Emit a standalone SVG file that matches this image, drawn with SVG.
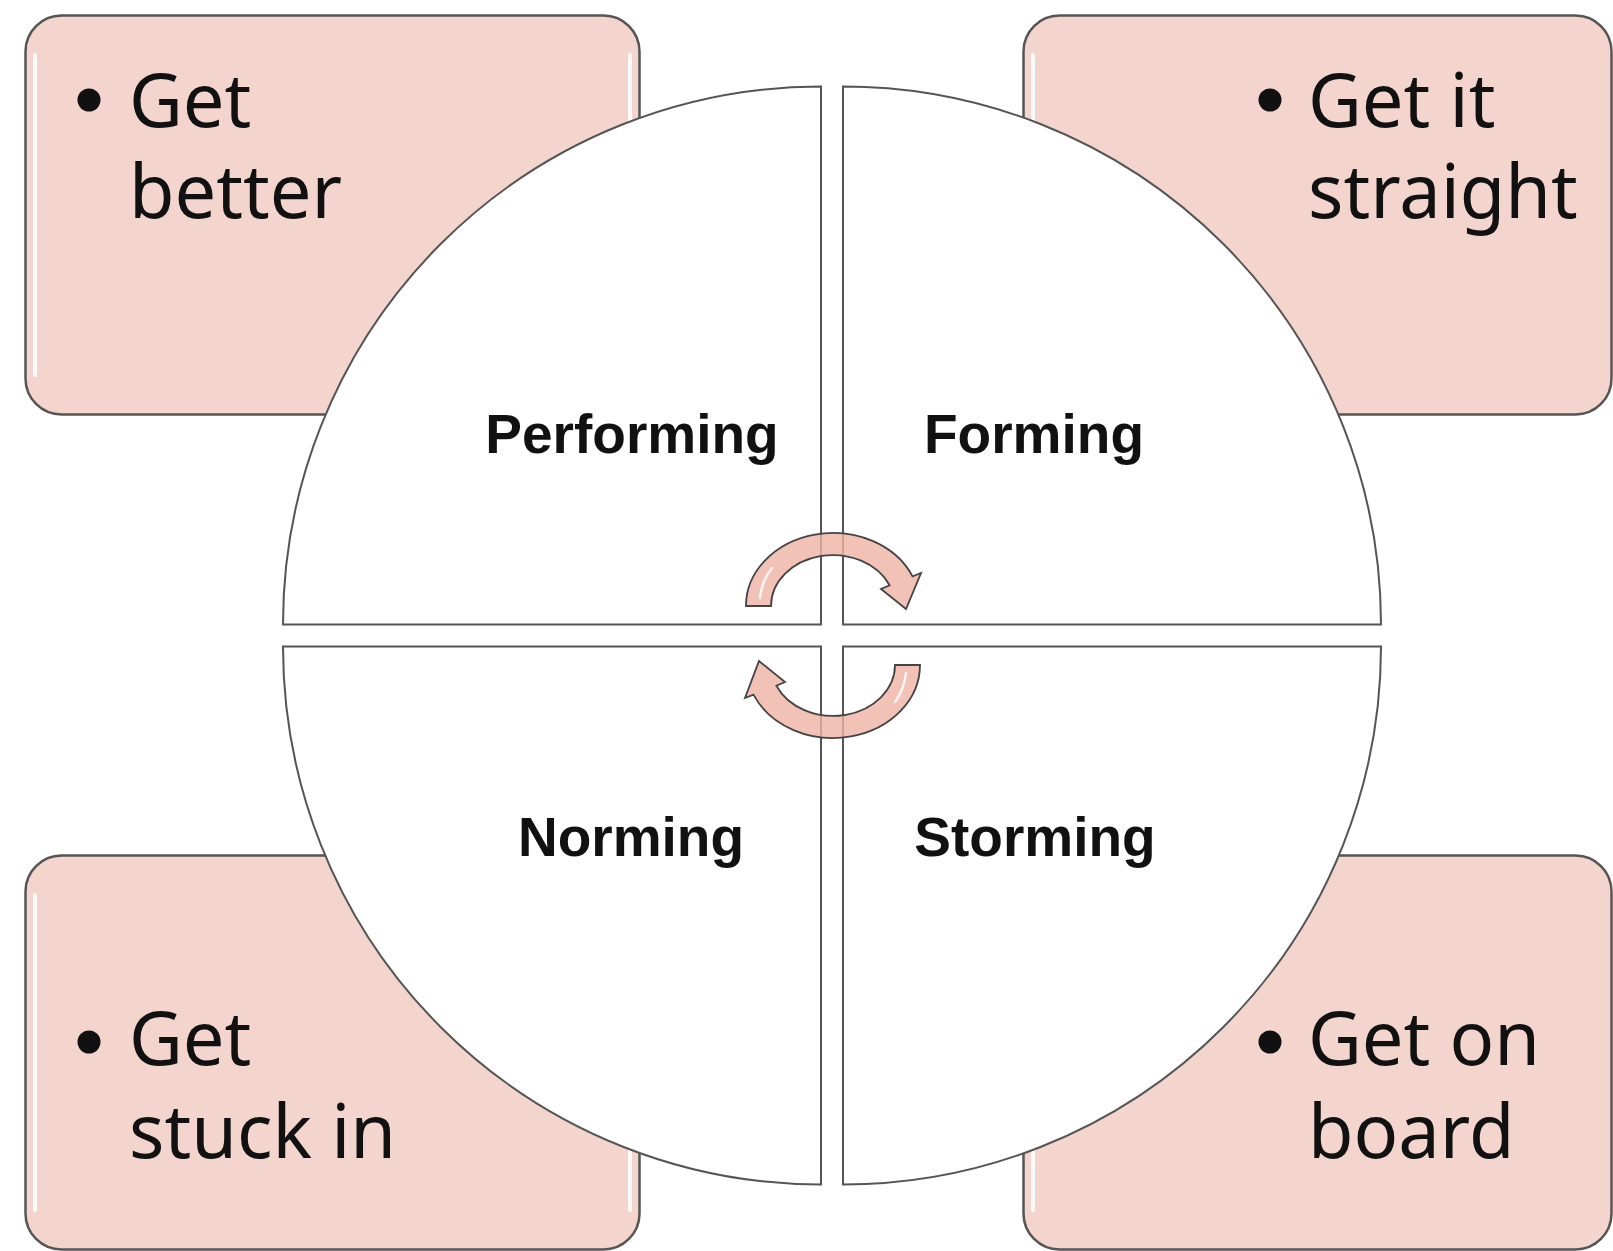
<svg xmlns="http://www.w3.org/2000/svg" width="1613" height="1251" viewBox="0 0 1613 1251">
<style>
.box{fill:#F3D5CE;stroke:#555;stroke-width:2.5}
.hl{stroke:#fff;stroke-width:4;stroke-linecap:round;opacity:0.9}
.quad{fill:#fff;stroke:#555;stroke-width:2}
.bt{font-family:"Noto Sans","Liberation Sans",sans-serif;font-size:74px;fill:#111}
.lbl{font-family:"Liberation Sans",Arial,sans-serif;font-weight:bold;font-size:55px;fill:#111;text-anchor:middle}
.arr{fill:#EFB3A4;fill-opacity:0.8;stroke:#444;stroke-width:1.8;stroke-linejoin:miter}
.ahl{stroke:#fff;stroke-width:2.5;fill:none;stroke-linecap:round;opacity:0.85}
</style>
<rect width="1613" height="1251" fill="#fff"/>
<g id="box-tl">
<rect class="box" x="25.5" y="15.5" width="614" height="399" rx="36"/>
<line class="hl" x1="35" y1="55" x2="35" y2="375"/>
<line class="hl" x1="630" y1="55" x2="630" y2="375"/>
<circle cx="89" cy="100" r="11.5" fill="#111"/>
<text class="bt" x="129" y="127">Get</text>
<text class="bt" x="129" y="218">better</text>
</g>
<g id="box-tr">
<rect class="box" x="1023.5" y="15.5" width="588" height="399" rx="36"/>
<line class="hl" x1="1033" y1="55" x2="1033" y2="375"/>
<circle cx="1270" cy="100" r="11.5" fill="#111"/>
<text class="bt" x="1308" y="127">Get it</text>
<text class="bt" x="1308" y="218">straight</text>
</g>
<g id="box-bl">
<rect class="box" x="25.5" y="855.5" width="614" height="394" rx="36"/>
<line class="hl" x1="35" y1="895" x2="35" y2="1210"/>
<line class="hl" x1="630" y1="895" x2="630" y2="1210"/>
<circle cx="89" cy="1042" r="11.5" fill="#111"/>
<text class="bt" x="129" y="1065">Get</text>
<text class="bt" x="129" y="1158">stuck in</text>
</g>
<g id="box-br">
<rect class="box" x="1023.5" y="855.5" width="588" height="394" rx="36"/>
<line class="hl" x1="1033" y1="895" x2="1033" y2="1210"/>
<circle cx="1270" cy="1042" r="11.5" fill="#111"/>
<text class="bt" x="1308" y="1065">Get on</text>
<text class="bt" x="1308" y="1158">board</text>
</g>
<g id="performing">
<path class="quad" d="M821,624.5 L283,624.5 A538,538 0 0 1 821,86.5 Z"/>
<text class="lbl" x="632" y="453">Performing</text>
</g>
<g id="forming">
<path class="quad" d="M843,624.5 L843,86.5 A538,538 0 0 1 1381,624.5 Z"/>
<text class="lbl" x="1034" y="453">Forming</text>
</g>
<g id="storming">
<path class="quad" d="M843,646.5 L1381,646.5 A538,538 0 0 1 843,1184.5 Z"/>
<text class="lbl" x="1035" y="856">Storming</text>
</g>
<g id="norming">
<path class="quad" d="M821,646.5 L821,1184.5 A538,538 0 0 1 283,646.5 Z"/>
<text class="lbl" x="631" y="856">Norming</text>
</g>
<g id="connectors">
<path class="arr" d="M746,606 A87,73 0 0 1 912.5,576.3 L921,573 L906,609 L881,589 L889.6,585.3 A62,51 0 0 0 771,606 Z"/>
<path class="ahl" d="M760,598 Q762,580 772,568"/>
<path class="arr" d="M920,665 A87,73 0 0 1 753.5,694.7 L745,698 L759,661 L785,682 L776.4,685.7 A62,51 0 0 0 895,665 Z"/>
<path class="ahl" d="M906,673 Q904,690 895,702"/>
</g>
</svg>
